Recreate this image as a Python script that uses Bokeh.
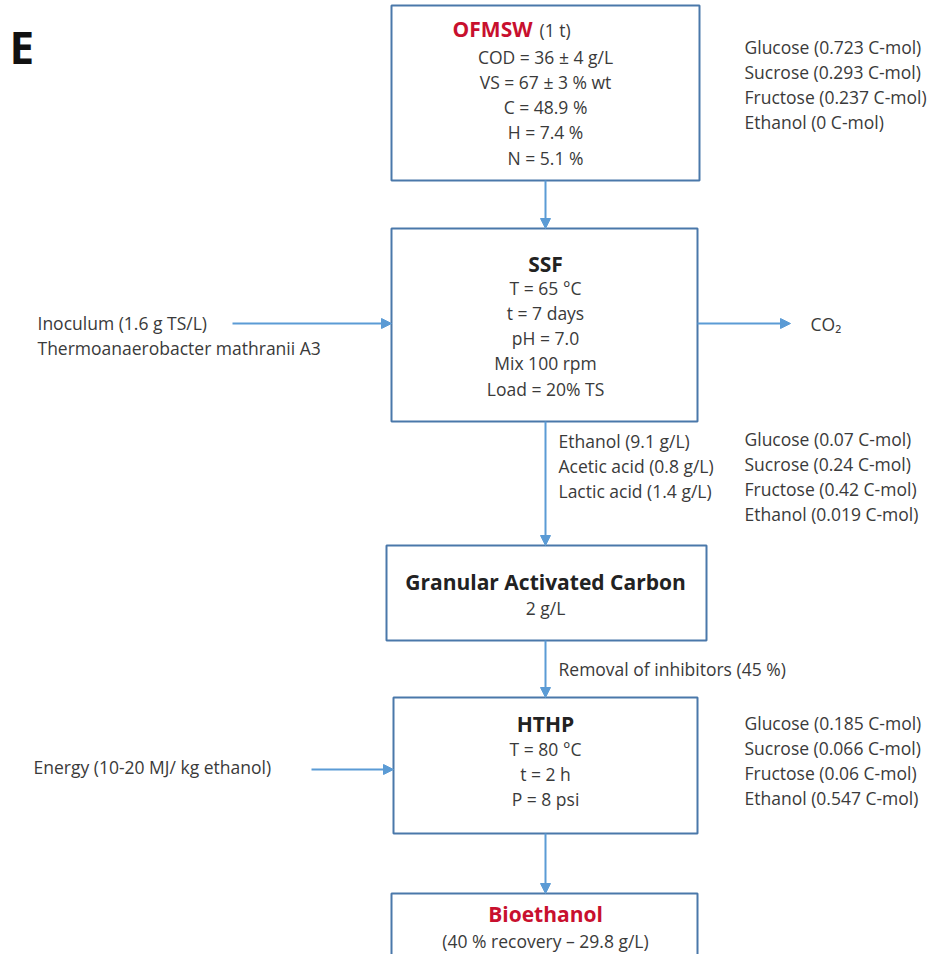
from bokeh.plotting import figure
from bokeh.models import Range1d, Arrow, NormalHead
from bokeh.core.properties import value
from bokeh.embed import file_html
from bokeh.resources import INLINE

# ---------------- data (texts / values) ----------------
panel_label = "E"
ofmsw_title = "OFMSW"
ofmsw_qty = "(1 t)"
ofmsw_props = ["COD = 36 ± 4 g/L", "VS = 67 ± 3 % wt", "C = 48.9 %", "H = 7.4 %", "N = 5.1 %"]
species = ["Glucose", "Sucrose", "Fructose", "Ethanol"]
feed_cmol = [0.723, 0.293, 0.237, 0]
ssf_title = "SSF"
ssf_props = ["T = 65 °C", "t = 7 days", "pH = 7.0", "Mix 100 rpm", "Load = 20% TS"]
inoculum = ["Inoculum (1.6 g TS/L)", "Thermoanaerobacter mathranii A3"]
gas_out = "CO₂"
ssf_products = ["Ethanol (9.1 g/L)", "Acetic acid (0.8 g/L)", "Lactic acid (1.4 g/L)"]
ssf_cmol = [0.07, 0.24, 0.42, 0.019]
gac_title = "Granular Activated Carbon"
gac_dose = "2 g/L"
gac_note = "Removal of inhibitors (45 %)"
hthp_title = "HTHP"
hthp_props = ["T = 80 °C", "t = 2 h", "P = 8 psi"]
energy = "Energy (10-20 MJ/ kg ethanol)"
hthp_cmol = [0.185, 0.066, 0.06, 0.547]
product_title = "Bioethanol"
product_note = "(40 % recovery – 29.8 g/L)"


def cmol_lines(vals):
    return [f"{s} ({v:g} C-mol)" for s, v in zip(species, vals)]


# ---------------- layout ----------------
FONT = "Open Sans"
FS = "17.5px"
FSB = "21px"
TXT = "#3a3a3a"
RED = "#c8102e"
BOX = "#4a78aa"
ARR = "#5b9bd5"
LINE_H = 25.3

p = figure(width=930, height=954, output_backend="svg", toolbar_location=None,
           x_range=Range1d(0, 930), y_range=Range1d(954, 0),
           min_border=0, tools="")
p.axis.visible = False
p.grid.visible = False
p.outline_line_color = None
p.background_fill_color = "white"

# boxes: left, right, top, bottom
boxes = [
    (391, 699, 5, 180),
    (391, 697, 228, 421),
    (386, 706, 545, 640),
    (393, 697, 697, 833),
    (391, 697, 893, 990),
]
p.quad(left=[b[0] for b in boxes], right=[b[1] for b in boxes],
       top=[b[2] for b in boxes], bottom=[b[3] for b in boxes],
       fill_color=None, line_color=BOX, line_width=2)

# arrows
arrows = [
    (545, 180, 545, 228),
    (545, 421, 545, 545),
    (545, 640, 545, 697),
    (545, 833, 545, 893),
    (232, 323, 391, 323),
    (697, 323, 790, 323),
    (311, 769, 393, 769),
]
for x0, y0, x1, y1 in arrows:
    p.add_layout(Arrow(x_start=x0, y_start=y0, x_end=x1, y_end=y1,
                       line_color=ARR, line_width=2,
                       end=NormalHead(size=10, fill_color=ARR, line_color=ARR, line_width=1)))


def txt(xs, ys, texts, align="left", size=FS, style="normal", color=TXT, font=FONT):
    p.text(x=xs, y=ys, text=texts, text_align=align, text_baseline="middle",
           text_font=value(font), text_font_size=size, text_font_style=style,
           text_color=color)


def stack(x, y0, lines, align="left", **kw):
    txt([x] * len(lines), [y0 + i * LINE_H for i in range(len(lines))], lines, align=align, **kw)


# panel label
txt([9], [46], [panel_label], size="44px", style="bold", color="#111111")

# OFMSW box
txt([532], [28], [ofmsw_title], align="right", size=FSB, style="bold", color=RED)
txt([539], [29], [ofmsw_qty], align="left")
stack(545, 56, ofmsw_props, align="center")
stack(744, 46, cmol_lines(feed_cmol))

# SSF box
txt([545], [263], [ssf_title], align="center", size=FSB, style="bold", color="#222222")
stack(545, 287, ssf_props, align="center")
stack(37, 322, inoculum)
txt([810], [323], [gas_out])
stack(558, 440, ssf_products)
stack(744, 438, cmol_lines(ssf_cmol))

# GAC box
txt([545], [581], [gac_title], align="center", size=FSB, style="bold", color="#222222")
txt([545], [607], [gac_dose], align="center")
txt([558], [668], [gac_note])

# HTHP box
txt([545], [723], [hthp_title], align="center", size=FSB, style="bold", color="#222222")
stack(545, 748, hthp_props, align="center")
txt([33], [766], [energy])
stack(744, 722, cmol_lines(hthp_cmol))

# product box
txt([545], [913], [product_title], align="center", size=FSB, style="bold", color=RED)
txt([545], [940], [product_note], align="center")

open("out.html", "w").write(file_html(p, INLINE))
